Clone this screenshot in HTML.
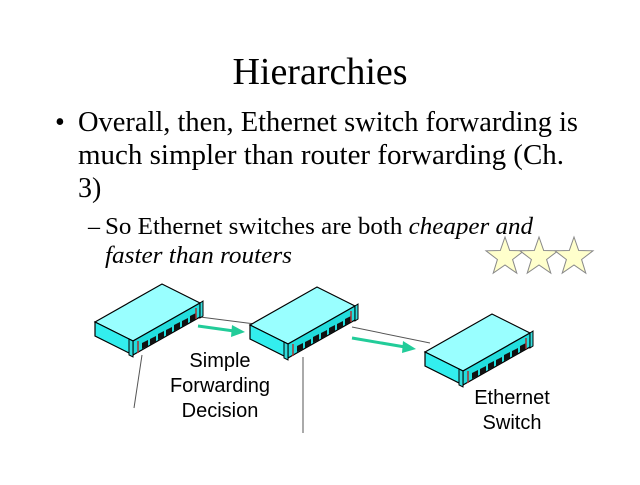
<!DOCTYPE html>
<html><head><style>
html,body{margin:0;padding:0;background:#fff;}
body{width:640px;height:480px;overflow:hidden;position:relative;}
</style></head><body>
<svg width="640" height="480" viewBox="0 0 640 480" xmlns="http://www.w3.org/2000/svg">
<defs>
<g id="sw">
 <!-- local coords: L(0,0) T(67,-38) R(105,-19) F(38,19), height 14 -->
 <polygon points="0,0 67,-38 105,-19 38,19" fill="#99ffff" stroke="#000" stroke-width="1.2"/>
 <polygon points="0,0 38,19 38,33 0,14" fill="#33eeee" stroke="#000" stroke-width="1.2"/>
 <polygon points="38,19 105,-19 105,-5 38,33" fill="#22dddd" stroke="#000" stroke-width="1.2"/>
 <g fill="#111">
  <polygon points="47,21 53,18 53,24 47,27"/>
  <polygon points="55,17 61,14 61,20 55,23"/>
  <polygon points="63,12 69,9 69,15 63,18"/>
  <polygon points="71,8 77,5 77,11 71,14"/>
  <polygon points="79,3 85,0 85,6 79,9"/>
  <polygon points="87,-1 93,-4 93,2 87,5"/>
  <polygon points="95,-6 101,-9 101,-3 95,0"/>
 </g>
 <line x1="43" y1="19" x2="43" y2="31" stroke="#a33" stroke-width="1.5"/>
 <line x1="101" y1="-14" x2="101" y2="-3" stroke="#a33" stroke-width="1.5"/>
 <polygon points="34,17 38,19 38,35 34,33" fill="#33dddd" stroke="#000" stroke-width="1"/>
 <polygon points="105,-19 108,-21 108,-6 105,-4" fill="#33dddd" stroke="#000" stroke-width="1"/>
</g>
<g id="star">
 <polygon points="0,-20 4.7,-6.5 19,-6.2 7.6,2.5 11.8,16.2 0,8 -11.8,16.2 -7.6,2.5 -19,-6.2 -4.7,-6.5" fill="#ffffcc" stroke="#888" stroke-width="1"/>
</g>
</defs>
<g font-family="Liberation Serif, serif" fill="#000">
 <text x="320" y="84" font-size="38" text-anchor="middle">Hierarchies</text>
 <text x="55" y="131" font-size="28">•</text>
 <text x="78" y="131" font-size="28" textLength="500" lengthAdjust="spacingAndGlyphs">Overall, then, Ethernet switch forwarding is</text>
 <text x="78" y="164" font-size="28" textLength="486" lengthAdjust="spacingAndGlyphs">much simpler than router forwarding (Ch.</text>
 <text x="78" y="197" font-size="28">3)</text>
 <text x="88" y="234" font-size="24">–</text>
 <text x="105" y="234" font-size="24" textLength="428" lengthAdjust="spacingAndGlyphs">So Ethernet switches are both <tspan font-style="italic">cheaper and</tspan></text>
 <text x="105" y="263" font-size="24" font-style="italic" textLength="187" lengthAdjust="spacingAndGlyphs">faster than routers</text>
</g>
<use href="#star" x="505" y="257"/>
<use href="#star" x="539" y="257"/>
<use href="#star" x="574" y="257"/>
<g stroke="#555" stroke-width="1" fill="none">
 <line x1="200" y1="317" x2="255" y2="324"/>
 <line x1="352" y1="327" x2="430" y2="343"/>
 <line x1="142" y1="355" x2="134" y2="408"/>
 <line x1="303" y1="357" x2="303" y2="433"/>
</g>
<use href="#sw" x="95" y="322"/>
<use href="#sw" x="250" y="325"/>
<use href="#sw" x="425" y="352"/>
<g stroke="#22cc99" stroke-width="3" fill="#22cc99">
 <line x1="198" y1="326" x2="234" y2="331"/>
 <polygon points="232,325 245,332 231,337" stroke="none"/>
 <line x1="352" y1="338" x2="405" y2="347"/>
 <polygon points="403,341 416,349 402,353" stroke="none"/>
</g>
<g font-family="Liberation Sans, sans-serif" font-size="20" text-anchor="middle" fill="#000">
 <text x="220" y="367">Simple</text>
 <text x="220" y="392">Forwarding</text>
 <text x="220" y="417">Decision</text>
 <text x="512" y="404">Ethernet</text>
 <text x="512" y="429">Switch</text>
</g>
</svg>
</body></html>
